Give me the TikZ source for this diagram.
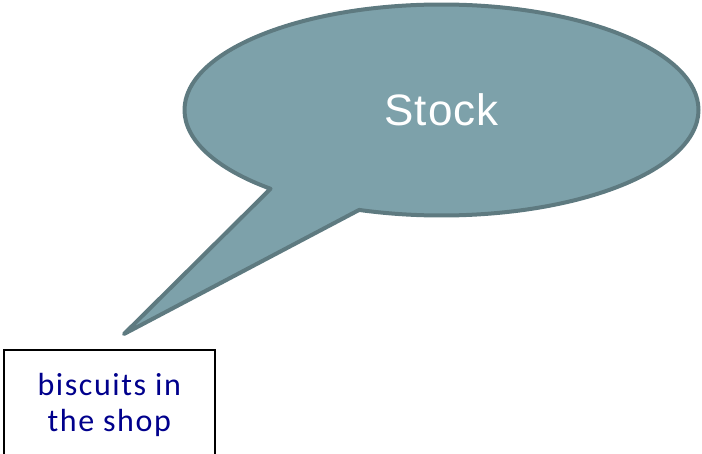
\documentclass[tikz,border=0pt]{standalone}
\usepackage{fontspec}
\setmainfont{Carlito}
\newfontfamily\stockfont[LetterSpace=2]{Liberation Sans}
\newfontfamily\shopfont[LetterSpace=5]{Carlito}
\usetikzlibrary{shapes.callouts,positioning}
\definecolor{bubblefill}{RGB}{125,161,170}
\definecolor{bubbleline}{RGB}{94,122,128}
\definecolor{shopblue}{RGB}{0,0,140}

\begin{document}
\begin{tikzpicture}[x=1pt,y=-1pt,
  bubble/.style={ellipse callout,draw=bubbleline,fill=bubblefill,line width=4pt,
    line join=round,minimum width=514pt,minimum height=211pt,inner sep=0pt,outer sep=0pt,
    callout pointer arc=23,text=white,font=\stockfont\fontsize{44}{52}\selectfont},
  shopbox/.style={draw=black,line width=2pt,minimum width=211pt,minimum height=110pt,
    inner sep=0pt,align=center,text=shopblue,font=\shopfont\fontsize{32}{36}\selectfont}
]
\useasboundingbox (0,0) rectangle (702,453);
\node[shopbox] (shop) at (109.2,405) {biscuits in\\the shop};
\coordinate (tip) at (124,334);
\node[bubble,callout absolute pointer=(tip)] (stock) at (441.5,110) {Stock};
\end{tikzpicture}
\end{document}
